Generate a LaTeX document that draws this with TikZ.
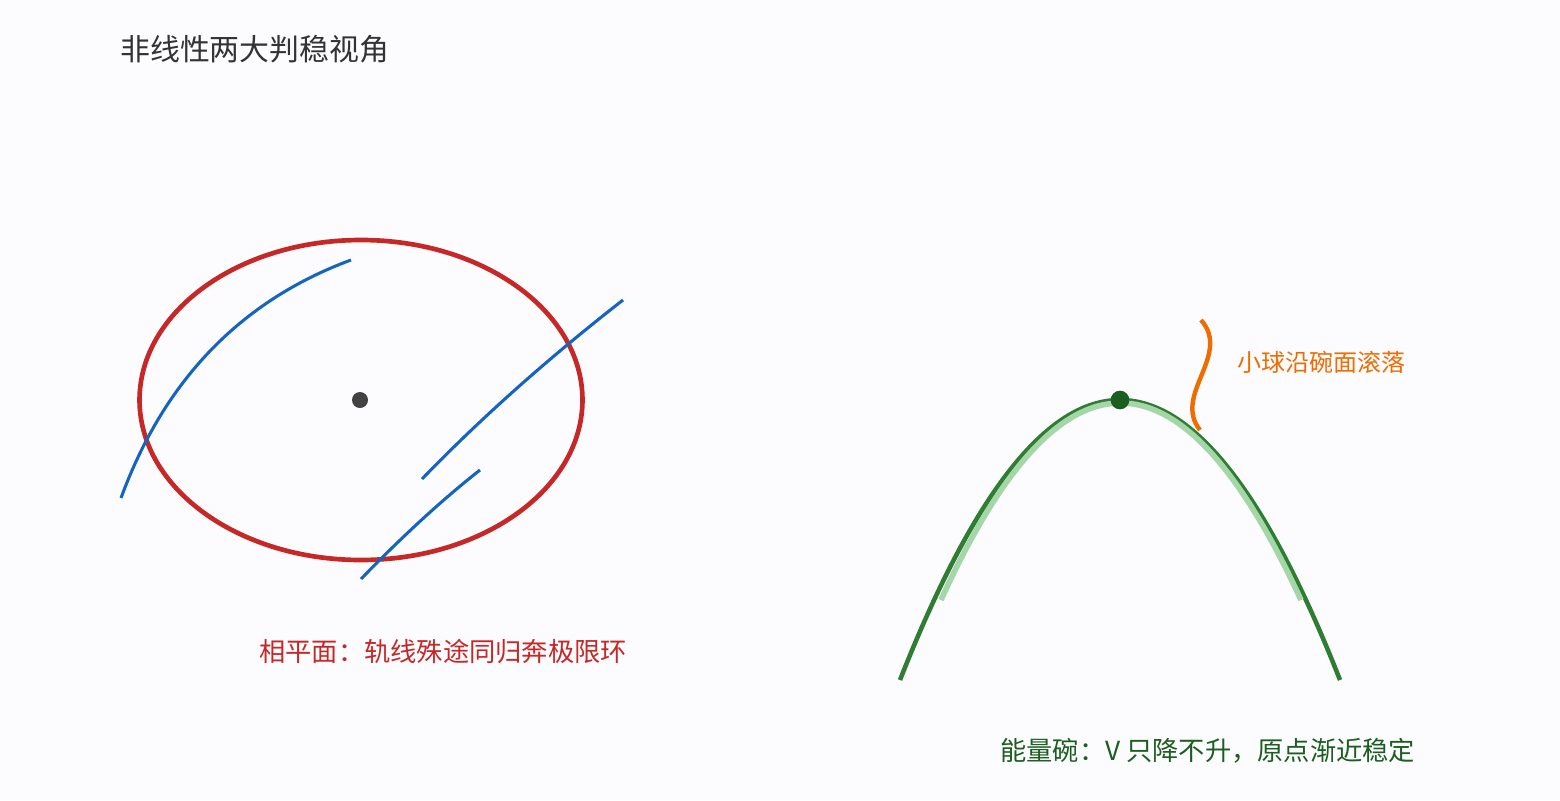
\documentclass[tikz,border=0pt]{standalone}
\usepackage{fontspec}
\setmainfont{Noto Sans CJK SC}
\usepackage{xcolor}
\usetikzlibrary{positioning}
\definecolor{bgpage}{RGB}{252,252,254}
\definecolor{titlegray}{RGB}{51,51,51}
\definecolor{cyclered}{RGB}{198,40,40}
\definecolor{trajblue}{RGB}{21,101,192}
\definecolor{dotgray}{RGB}{66,66,66}
\definecolor{bowlgreen}{RGB}{46,125,50}
\definecolor{bowllight}{RGB}{165,214,167}
\definecolor{ballgreen}{RGB}{27,94,32}
\definecolor{rollorange}{RGB}{239,108,0}

\begin{document}
\begin{tikzpicture}[
    x=0.75pt, y=-0.75pt,
    cycle/.style={draw=cyclered, line width=3.5pt},
    traj/.style={draw=trajblue, line width=2.3pt},
    bowl/.style={draw=bowlgreen, line width=3.4pt},
    bowlshade/.style={draw=bowllight, line width=4.2pt},
    roll/.style={draw=rollorange, line width=3.3pt},
    caption/.style={anchor=west, inner sep=0pt, font=\fontsize{19.7}{23}\selectfont}
]
\fill[bgpage] (0,0) rectangle (1560,800);
\useasboundingbox (0,0) rectangle (1560,800);

% Title
\node[anchor=west, inner sep=0pt, text=titlegray, font=\fontsize{22.4}{27}\selectfont] (title) at (120,49) {非线性两大判稳视角};

% Phase plane
\draw[cycle] (361,400) ellipse [x radius=166.1pt, y radius=120pt];
\fill[dotgray] (360,400) circle [radius=6pt];
\draw[traj] (121,498) .. controls (164.3,380) and (241,300.7) .. (351,260);
\draw[traj] (422,479) .. controls (480.7,418.3) and (547.7,358.7) .. (623,300);
\draw[traj] (361,579) .. controls (403,535.7) and (442.7,499.3) .. (480,470);
\node[caption, text=cyclered] (phaselabel) at (259,651) {相平面：轨线殊途同归奔极限环};

% Energy bowl
\draw[bowl] (900,680) .. controls (1046.7,306.7) and (1193.3,306.7) .. (1340,680);
\draw[bowlshade] (941,600) .. controls (1060.3,337.3) and (1180.3,337.3) .. (1301,600);
\fill[ballgreen] (1120,400) circle [radius=7pt];
\draw[roll] (1200,430) .. controls (1172,395) and (1232,355) .. (1201,320);
\node[anchor=west, inner sep=0pt, text=rollorange, font=\fontsize{18}{22}\selectfont] (rolllabel) at (1237,362) {小球沿碗面滚落};
\node[caption, text=ballgreen] (bowllabel) at (1000,751) {能量碗：V 只降不升，原点渐近稳定};

\end{tikzpicture}
\end{document}
